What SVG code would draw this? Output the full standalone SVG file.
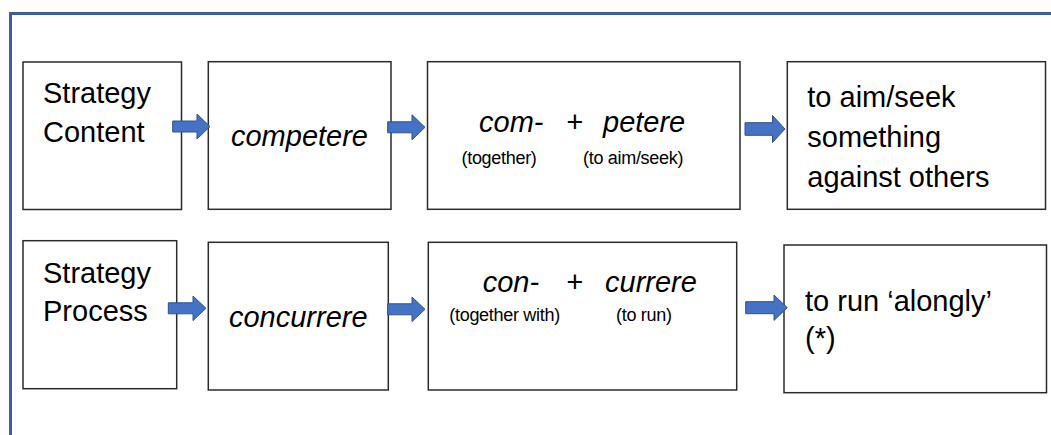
<svg xmlns="http://www.w3.org/2000/svg" width="1051" height="435" viewBox="0 0 1051 435">
  <style>
    .box { fill: #ffffff; stroke: #2b2b2b; stroke-width: 1.5; }
    .arrow { fill: #4472c4; stroke: #2f528f; stroke-width: 1; }
    .t { font-family: "Liberation Sans", Arial, sans-serif; font-size: 29px; fill: #000; }
    .it { font-style: italic; }
    .sm { font-family: "Liberation Sans", Arial, sans-serif; font-size: 18px; fill: #000; letter-spacing: -0.3px; }
  </style>

  <!-- frame -->
  <rect x="10.5" y="13.5" width="1100" height="500" fill="#ffffff" stroke="#3a5fa0" stroke-width="3"/>

  <!-- top row -->
  <g id="strategy-content">
    <rect class="box" x="23" y="62" width="158.5" height="147.5"/>
    <text class="t" x="43" y="103">Strategy</text>
    <text class="t" x="43" y="141.5">Content</text>
  </g>
  <g id="competere">
    <rect class="box" x="208.3" y="61.7" width="182.7" height="147.6"/>
    <text class="t it" x="299.5" y="146" text-anchor="middle">competere</text>
  </g>
  <g id="com-petere">
    <rect class="box" x="427.5" y="61.7" width="312.5" height="147.6"/>
    <text class="t it" x="479" y="131.5">com-</text>
    <text class="t it" x="566" y="131.5">+</text>
    <text class="t it" x="603" y="131.5">petere</text>
    <text class="sm" x="461.5" y="163.5">(together)</text>
    <text class="sm" x="583" y="163.5">(to aim/seek)</text>
  </g>
  <g id="aim-seek">
    <rect class="box" x="787.3" y="61.7" width="258.2" height="147.6"/>
    <text class="t" x="807.3" y="106.5">to aim/seek</text>
    <text class="t" x="807.3" y="146.5">something</text>
    <text class="t" x="807.3" y="186.5">against others</text>
  </g>

  <!-- bottom row -->
  <g id="strategy-process">
    <rect class="box" x="23" y="240.7" width="153.7" height="148"/>
    <text class="t" x="43" y="282.7">Strategy</text>
    <text class="t" x="43" y="320.7">Process</text>
  </g>
  <g id="concurrere">
    <rect class="box" x="208.3" y="242.3" width="180" height="147.7"/>
    <text class="t it" x="298.3" y="327" text-anchor="middle">concurrere</text>
  </g>
  <g id="con-currere">
    <rect class="box" x="428.3" y="242.3" width="308.4" height="147.7"/>
    <text class="t it" x="482.7" y="291.5">con-</text>
    <text class="t it" x="566" y="291.5">+</text>
    <text class="t it" x="605" y="291.5">currere</text>
    <text class="sm" x="449.3" y="320.5">(together with)</text>
    <text class="sm" x="616" y="320.5">(to run)</text>
  </g>
  <g id="run-alongly">
    <rect class="box" x="784" y="245" width="262.5" height="147.7"/>
    <text class="t" x="805" y="310.5">to run ‘alongly’</text>
    <text class="t" x="805" y="348">(*)</text>
  </g>

  <!-- connectors: block arrows -->
  <g id="connectors">
    <path class="arrow" d="M172.7,121 H197 V114 L210,126.5 L197,139 V132 H172.7 Z"/>
    <path class="arrow" d="M387.7,121.8 H412 V114.8 L425,127.3 L412,139.8 V132.8 H387.7 Z"/>
    <path class="arrow" d="M745,122.7 H772.5 V115.5 L785,129 L772.5,142.5 V135.3 H745 Z"/>
    <path class="arrow" d="M168.3,302.8 H193 V296 L206,308.3 L193,320.6 V313.8 H168.3 Z"/>
    <path class="arrow" d="M387.7,303.8 H412 V297 L425,309.3 L412,321.6 V314.8 H387.7 Z"/>
    <path class="arrow" d="M745.7,301.7 H774 V295 L787.3,307.7 L774,320.4 V313.7 H745.7 Z"/>
  </g>
</svg>
